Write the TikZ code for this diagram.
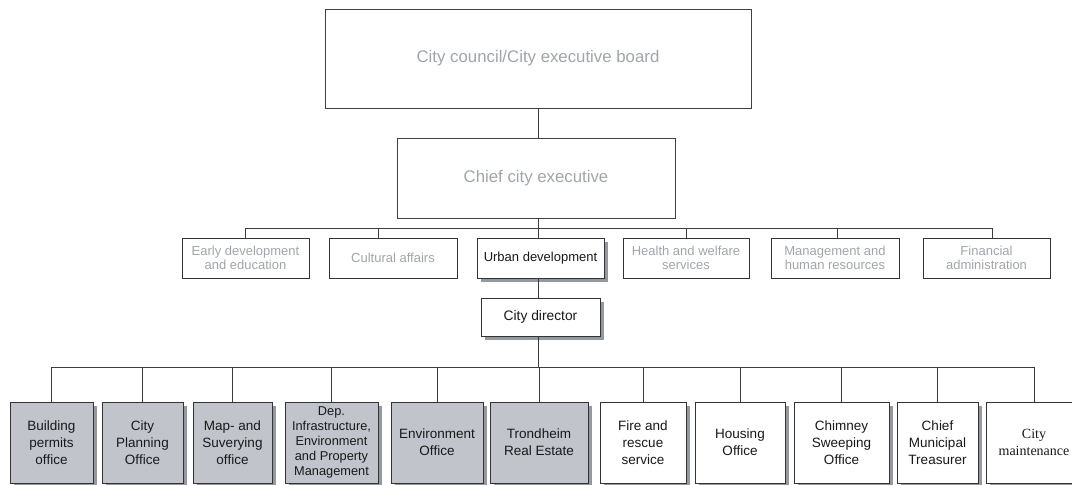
\documentclass[tikz,border=0pt]{standalone}
\usepackage{fontspec}
\setmainfont{Liberation Sans}
\newfontfamily\seriffont{Liberation Serif}
\usetikzlibrary{positioning,shadows}
\definecolor{textgray}{RGB}{160,165,172}
\definecolor{boxfill}{RGB}{193,197,203}
\definecolor{shadowgray}{RGB}{148,153,160}
\definecolor{linegray}{RGB}{60,60,60}
\tikzset{
  boardbox/.style={draw=black!75, line width=0.9pt, text=textgray, inner sep=0pt,
    font=\fontsize{16.8}{20}\selectfont},
  areabox/.style={draw=black!80, line width=0.8pt, text=textgray, inner sep=0pt, align=center,
    minimum height=40pt, font=\fontsize{13}{13.5}\selectfont},
  mainbox/.style={areabox, fill=white, text=black!90,
    drop shadow={shadow xshift=4pt, shadow yshift=-4pt, fill=shadowgray, opacity=1}},
  officebox/.style={draw=black!80, line width=0.8pt, fill=white, text=black!90, inner sep=0pt,
    align=center, minimum height=81pt, font=\fontsize{13.5}{16.7}\selectfont,
    drop shadow={shadow xshift=4pt, shadow yshift=-4pt, fill=shadowgray, opacity=1}},
  grayoffice/.style={officebox, fill=boxfill},
  link/.style={draw=linegray, line width=0.8pt}
}
\begin{document}
\begin{tikzpicture}[x=1pt, y=-1pt]
  \useasboundingbox (0,0) rectangle (1072,485);
  \clip (0,0) rectangle (1072,485);
  % top of the organisation
  \node[boardbox, minimum width=426pt, minimum height=99pt] (council) at (538,58.5) {City council/City executive board};
  \node[boardbox, minimum width=278pt, minimum height=80pt] (chief) at (536,178) {Chief city executive};
  % the six areas
  \node[areabox, minimum width=127pt] (early) at (245.5,258) {Early development\\and education};
  \node[areabox, minimum width=128pt] (culture) at (393,258) {Cultural affairs};
  \node[mainbox, minimum width=127pt] (urban) at (540.5,258) {Urban development};
  \node[areabox, minimum width=126pt] (health) at (686,258) {Health and welfare\\services};
  \node[areabox, minimum width=128pt] (staff) at (835,258) {Management and\\human resources};
  \node[areabox, minimum width=127pt] (finance) at (986.5,258) {Financial\\administration};
  \node[mainbox, minimum width=119pt, minimum height=38pt, font=\fontsize{13.8}{16}\selectfont] (director) at (540.5,317) {City director};
  % offices under the city director
  \node[grayoffice, minimum width=83pt] (building) at (51.5,442.5) {Building\\permits\\office};
  \node[grayoffice, minimum width=81pt] (planning) at (142.5,442.5) {City\\Planning\\Office};
  \node[grayoffice, minimum width=79pt] (mapping) at (232.5,442.5) {Map- and\\Suverying\\office};
  \node[grayoffice, minimum width=93pt, font=\fontsize{12.8}{15}\selectfont] (infra) at (331.5,442.5) {Dep.\\Infrastructure,\\Environment\\and Property\\Management};
  \node[grayoffice, minimum width=92pt] (environment) at (437,442.5) {Environment\\Office};
  \node[grayoffice, minimum width=98pt] (estate) at (539,442.5) {Trondheim\\Real Estate};
  \node[officebox, minimum width=86pt] (fire) at (643,442.5) {Fire and\\rescue\\service};
  \node[officebox, minimum width=90pt] (housing) at (740,442.5) {Housing\\Office};
  \node[officebox, minimum width=95pt] (chimney) at (841.5,442.5) {Chimney\\Sweeping\\Office};
  \node[officebox, minimum width=81pt] (treasurer) at (937.5,442.5) {Chief\\Municipal\\Treasurer};
  \node[officebox, minimum width=96pt, font=\seriffont\fontsize{14}{17}\selectfont] (maintenance) at (1034,442.5) {City\\maintenance};
  % connectors
  \coordinate (areabar) at (538,228);
  \coordinate (officebar) at (538,367);
  \draw[link] (council.south) -- (council.south |- chief.north);
  \draw[link] (chief.south -| areabar) -- (areabar);
  \draw[link] (early.north) |- (areabar);
  \draw[link] ([xshift=-15pt]culture.north) |- (areabar);
  \draw[link] (urban.north -| areabar) -- (areabar);
  \draw[link] (health.north) |- (areabar);
  \draw[link] ([xshift=2pt]staff.north) |- (areabar);
  \draw[link] ([xshift=5.5pt]finance.north) |- (areabar);
  \draw[link] (urban.south -| areabar) -- (director.north -| areabar);
  \draw[link] (director.south -| officebar) -- (officebar);
  \foreach \office in {building,planning,mapping,infra,environment,estate,fire,housing,chimney,treasurer,maintenance}
    \draw[link] (\office.north) |- (officebar);
\end{tikzpicture}
\end{document}
